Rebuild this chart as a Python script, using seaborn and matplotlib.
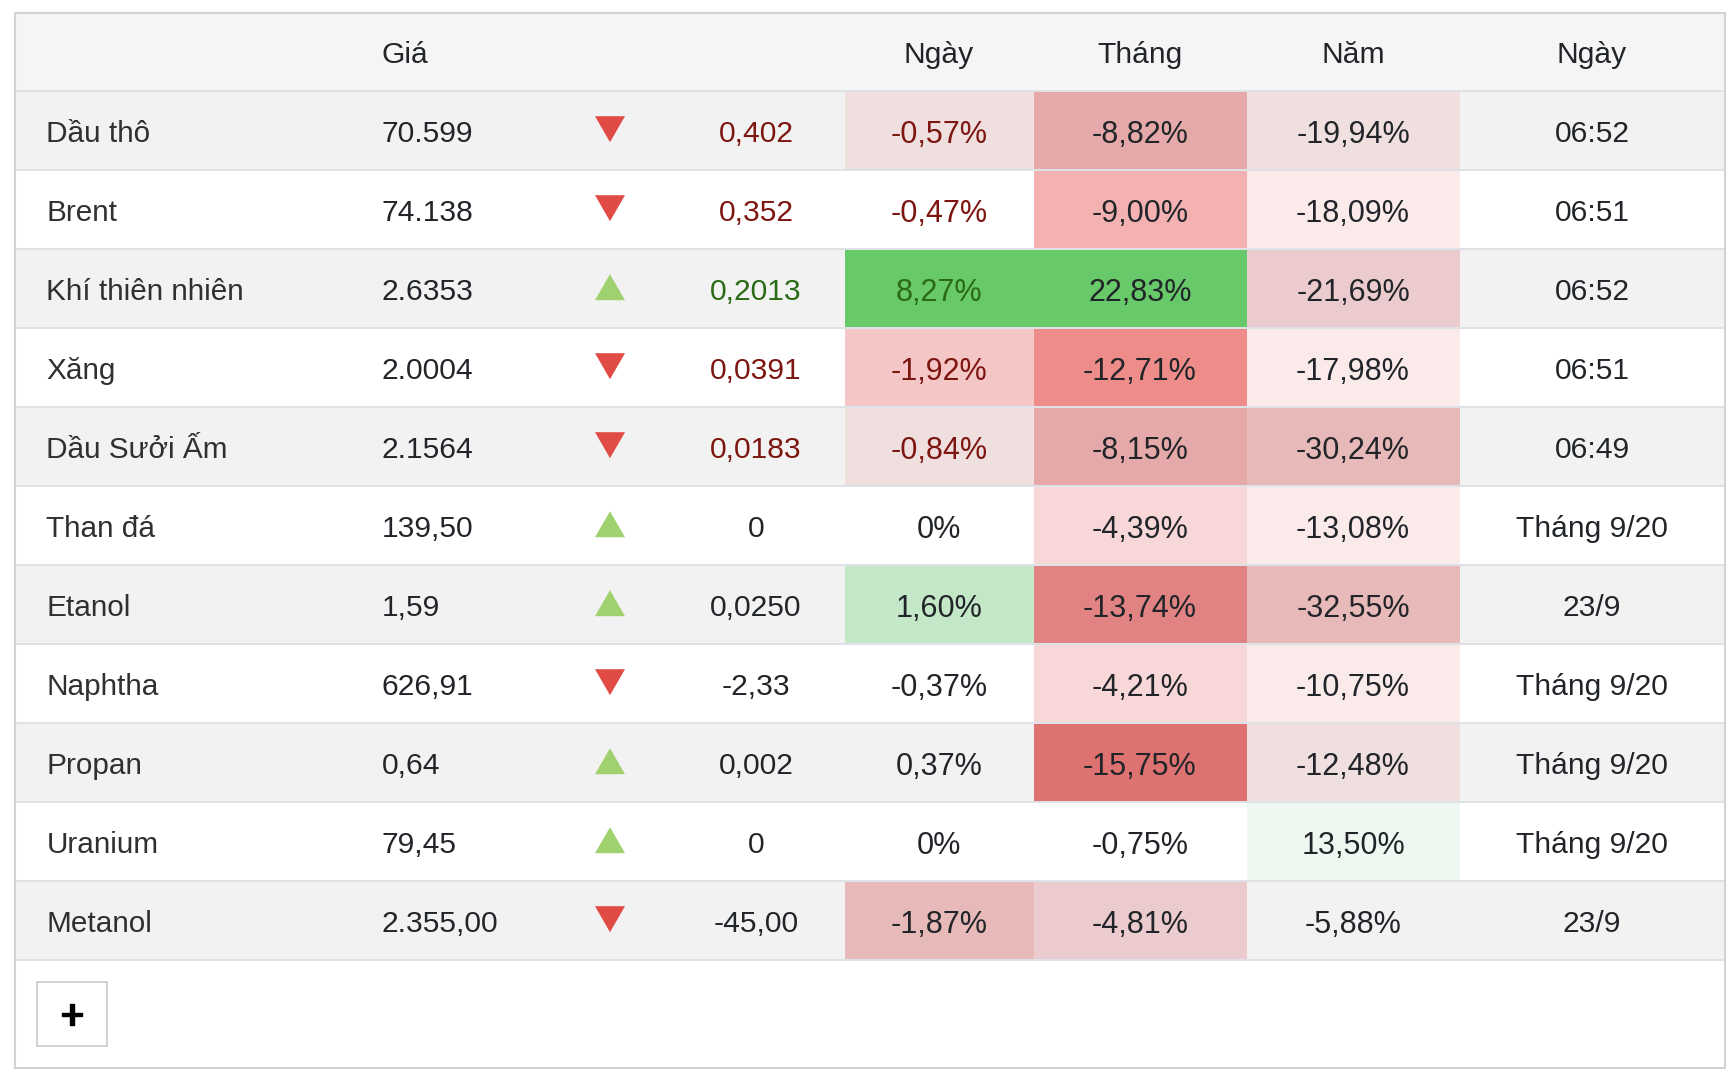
import numpy as np
import pandas as pd
import seaborn as sns
import matplotlib
matplotlib.use("Agg")
import matplotlib.pyplot as plt
import matplotlib.patheffects as pe
from matplotlib.colors import ListedColormap
from matplotlib.patches import Rectangle

# ---- data ----
names = ["Dầu thô", "Brent", "Khí thiên nhiên", "Xăng", "Dầu Sưởi Ấm", "Than đá",
         "Etanol", "Naphtha", "Propan", "Uranium", "Metanol"]
prices = ["70.599", "74.138", "2.6353", "2.0004", "2.1564", "139,50",
          "1,59", "626,91", "0,64", "79,45", "2.355,00"]
direction = ["down", "down", "up", "down", "down", "up", "up", "down", "up", "up", "down"]
changes = ["0,402", "0,352", "0,2013", "0,0391", "0,0183", "0", "0,0250", "-2,33", "0,002", "0", "-45,00"]
day_pct = ["-0,57%", "-0,47%", "8,27%", "-1,92%", "-0,84%", "0%", "1,60%", "-0,37%", "0,37%", "0%", "-1,87%"]
month_pct = ["-8,82%", "-9,00%", "22,83%", "-12,71%", "-8,15%", "-4,39%", "-13,74%", "-4,21%", "-15,75%", "-0,75%", "-4,81%"]
year_pct = ["-19,94%", "-18,09%", "-21,69%", "-17,98%", "-30,24%", "-13,08%", "-32,55%", "-10,75%", "-12,48%", "13,50%", "-5,88%"]
dates = ["06:52", "06:51", "06:52", "06:51", "06:49", "Tháng 9/20", "23/9", "Tháng 9/20", "Tháng 9/20", "Tháng 9/20", "23/9"]
headers = ["Giá", "Ngày", "Tháng", "Năm", "Ngày"]
emphasis = ["red", "red", "green", "red", "red", "plain", "plain", "plain", "plain", "plain", "plain"]

day_shade = ["#efe0df", "", "#68c96a", "#f4c6c6", "#efe0df", "", "#c4e7c8", "", "", "", "#e8b9b9"]
month_shade = ["#e5a9a9", "#f3b1b1", "#68c96a", "#ee8c8a", "#e5a9a9", "#f8d7d9", "#e18382", "#f8d7d9", "#de7271", "", "#ebcbcd"]
year_shade = ["#efe0df", "#fbeaea", "#ebcbcd", "#fbeaea", "#e8b9b9", "#fbeaea", "#e8b9b9", "#fbeaea", "#efe0df", "#eff8f0", ""]

# ---- layout, in pixels of the 1732x1086 picture ----
W, H = 1732, 1086
LEFT, RIGHT, TOP, BOTTOM = 15, 1724.5, 13, 1067.5
HEAD_BOTTOM = 90.7
ROW_H = 79.0
COL_EDGES = [845, 1034, 1247, 1460]
X_NAME, X_PRICE, X_TRI, X_CHANGE, X_DAY, X_MONTH, X_YEAR, X_DATE = 46.5, 381.6, 610, 756, 939, 1140, 1353, 1592
FS = 21.6
FS_NAME = 21.4
FS_PCT = 22.0
BASE = 12.0
BASE_PCT = 12.6

sns.set_theme(style="white")
plt.rcParams["font.family"] = ["Liberation Sans", "DejaVu Sans"]

fig = plt.figure(figsize=(W / 100, H / 100), dpi=100, facecolor="white")


def px_axes(x0, y0, x1, y1, **kw):
    return fig.add_axes([x0 / W, 1 - y1 / H, (x1 - x0) / W, (y1 - y0) / H], **kw)


tbl_bottom = HEAD_BOTTOM + ROW_H * len(names)

# row stripes, as a one-column heatmap
stripes = pd.DataFrame({"stripe": [i % 2 for i in range(len(names))]})
ax_bg = px_axes(LEFT, HEAD_BOTTOM, RIGHT, tbl_bottom)
sns.heatmap(stripes, cmap=ListedColormap(["#f2f2f2", "#ffffff"]), vmin=0, vmax=1, cbar=False,
            xticklabels=False, yticklabels=False, ax=ax_bg)

# shaded percentage columns, one heatmap per column because widths differ
for k, shade in enumerate([day_shade, month_shade, year_shade]):
    palette = sorted({c for c in shade if c})
    codes = np.array([[palette.index(c) if c else -1] for c in shade], dtype=float)
    ax_c = px_axes(COL_EDGES[k], HEAD_BOTTOM, COL_EDGES[k + 1], tbl_bottom)
    ax_c.patch.set_alpha(0)
    sns.heatmap(pd.DataFrame(codes), mask=codes < 0, cmap=ListedColormap(palette),
                vmin=-0.5, vmax=len(palette) - 0.5, cbar=False,
                xticklabels=False, yticklabels=False, ax=ax_c)

# overlay in picture pixels
ax = fig.add_axes([0, 0, 1, 1], facecolor="none")
ax.set_xlim(0, W)
ax.set_ylim(H, 0)
ax.axis("off")

ax.add_patch(Rectangle((LEFT, TOP), RIGHT - LEFT, HEAD_BOTTOM - TOP, fc="#f5f5f5", ec="none", zorder=1))
ax.add_patch(Rectangle((LEFT, TOP), RIGHT - LEFT, BOTTOM - TOP, fc="none", ec="#d2d2d2", lw=1.5, zorder=5))
for i in range(len(names) + 1):
    y = HEAD_BOTTOM + i * ROW_H
    ax.plot([LEFT, RIGHT], [y, y], color="#dee2e6", lw=1.44, solid_capstyle="butt", zorder=4)

centers = HEAD_BOTTOM + (np.arange(len(names)) + 0.5) * ROW_H

# direction triangles
tri = pd.DataFrame({"x": [X_TRI] * len(names), "y": centers - 1.0, "dir": direction})
sns.scatterplot(data=tri, x="x", y="y", hue="dir", style="dir",
                palette={"down": "#e04b45", "up": "#9fd16f"},
                markers={"down": [(-1, 0.867), (1, 0.867), (0, -0.867)],
                         "up": [(-1, -0.867), (1, -0.867), (0, 0.867)]},
                s=466, linewidth=0, legend=False, ax=ax, zorder=6)
ax.set_xlim(0, W)
ax.set_ylim(H, 0)
ax.axis("off")

INK = "#212529"
NAME_INK = "#303030"
RED = "#7d1510"
GREEN = "#2a6a14"
ACCENT = {"red": RED, "green": GREEN, "plain": INK}


def put(x, y, s, color=INK, ha="center", size=FS):
    ax.text(x, y, s, color=color, ha=ha, va="baseline", fontsize=size, zorder=7)


head_y = (TOP + HEAD_BOTTOM) / 2 + 11.5
put(X_PRICE, head_y, headers[0], ha="left")
for x, h in zip([X_DAY, X_MONTH, X_YEAR, X_DATE], headers[1:]):
    put(x, head_y, h)

for i, cy in enumerate(centers):
    y = cy + BASE
    yp = cy + BASE_PCT
    c = ACCENT[emphasis[i]]
    put(X_NAME, y, names[i], color=NAME_INK, ha="left", size=FS_NAME)
    put(X_PRICE, y, prices[i], ha="left")
    put(X_CHANGE, y, changes[i], color=c)
    put(X_DAY, yp, day_pct[i], color=c, size=FS_PCT)
    put(X_MONTH, yp, month_pct[i], size=FS_PCT)
    put(X_YEAR, yp, year_pct[i], size=FS_PCT)
    put(X_DATE, y, dates[i])

# "+" button
ax.add_patch(Rectangle((37, 982), 70, 64, fc="white", ec="#cccccc", lw=1.2, zorder=6))
ax.text(72, 1013.0, "+", color="black", fontsize=31, ha="center", va="center_baseline", zorder=7,
        path_effects=[pe.withStroke(linewidth=1.0, foreground="black")])

fig.savefig("out.png", dpi=100, facecolor="white")
